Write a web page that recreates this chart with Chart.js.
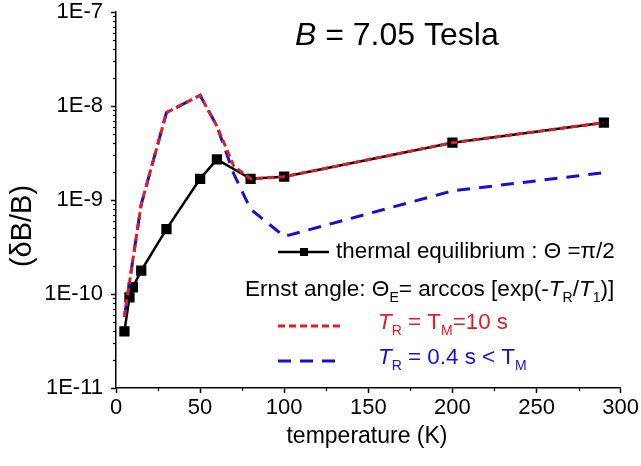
<!DOCTYPE html>
<html>
<head>
<meta charset="utf-8">
<script src="https://cdn.jsdelivr.net/npm/chart.js@4"></script>
<style>
  body { margin: 0; background: #fff; }
  canvas { display: block; }
</style>
</head>
<body>
<canvas id="chart" width="641" height="466"></canvas>
<script>
'use strict';

// temperatures (K) and values
const eqTemps = [5, 8, 10, 15, 30, 50, 60, 80, 100, 200, 290];
const thermalEq = [4.0e-11, 9.2e-11, 1.18e-10, 1.77e-10, 4.9e-10, 1.68e-9, 2.7e-9, 1.68e-9, 1.77e-9, 4.07e-9, 6.65e-9];

const ernstTemps = [5, 10, 15, 30, 50, 60, 70, 80, 100, 200, 290];
const ernstLongTR = [5.7e-11, 2.3e-10, 9.0e-10, 8.5e-9, 1.3e-8, 6.1e-9, 2.3e-9, 1.68e-9, 1.77e-9, 4.07e-9, 6.65e-9];
const ernstShortTR = [5.7e-11, 2.3e-10, 9.0e-10, 8.5e-9, 1.3e-8, 6.1e-9, 1.9e-9, 8.0e-10, 4.1e-10, 1.25e-9, 1.95e-9];

// axis ticks
const xTicks = [0, 50, 100, 150, 200, 250, 300];
const xMinorTicks = [25, 75, 125, 175, 225, 275];
const yTicks = [1e-11, 1e-10, 1e-9, 1e-8, 1e-7];

const FONT = "'Liberation Sans', Arial, sans-serif";
const RED = 'rgb(226, 28, 32)';
const BLUE = 'rgb(18, 18, 214)';

const toPoints = (xs, ys) => xs.map((x, i) => ({ x: x, y: ys[i] }));

// draw a line of text made of parts (italic / subscript)
function drawRich(ctx, x, y, parts, size, color) {
  ctx.textBaseline = 'middle';
  ctx.textAlign = 'left';
  parts.forEach(p => {
    const s = p.sub ? Math.round(size * 0.62) : size;
    ctx.font = (p.it ? 'italic ' : '') + s + 'px ' + FONT;
    ctx.fillStyle = color;
    ctx.fillText(p.t, x, p.sub ? y + size * 0.38 : y);
    x += ctx.measureText(p.t).width;
  });
}

const decorations = {
  id: 'decorations',
  afterDraw(chart) {
    const ctx = chart.ctx;
    const xs = chart.scales.x;
    const ys = chart.scales.y;
    ctx.save();

    // minor ticks
    ctx.strokeStyle = '#000';
    ctx.lineWidth = 1.2;
    for (let e = -11; e < -7; e++) {
      for (let k = 2; k <= 9; k++) {
        const py = Math.round(ys.getPixelForValue(k * Math.pow(10, e))) + 0.5;
        ctx.beginPath();
        ctx.moveTo(xs.left - 3, py);
        ctx.lineTo(xs.left, py);
        ctx.stroke();
      }
    }
    xMinorTicks.forEach(v => {
      const px = Math.round(xs.getPixelForValue(v)) + 0.5;
      ctx.beginPath();
      ctx.moveTo(px, ys.bottom);
      ctx.lineTo(px, ys.bottom + 3);
      ctx.stroke();
    });

    // axis titles
    ctx.fillStyle = '#000';
    ctx.textAlign = 'center';
    ctx.textBaseline = 'middle';
    ctx.font = '23px ' + FONT;
    ctx.fillText('temperature (K)', 367, 437);
    ctx.save();
    ctx.translate(23, 226);
    ctx.rotate(-Math.PI / 2);
    ctx.font = '29px ' + FONT;
    ctx.fillText('(\u03B4B/B)', 0, 0);
    ctx.restore();

    // field label
    drawRich(ctx, 295, 36, [{ t: 'B', it: true }, { t: ' = 7.05 Tesla' }], 32, '#000');

    // legend
    const ds = chart.data.datasets;
    const sample = (d, y) => {
      ctx.strokeStyle = d.borderColor;
      ctx.lineWidth = d.borderWidth;
      ctx.setLineDash(d.borderDash || []);
      ctx.beginPath();
      ctx.moveTo(278, y);
      ctx.lineTo(d.borderDash ? 341 : 329, y);
      ctx.stroke();
      ctx.setLineDash([]);
    };
    sample(ds[2], 252);
    ctx.fillStyle = '#000';
    ctx.fillRect(300, 248, 8, 8);
    drawRich(ctx, 336, 252, [{ t: 'thermal equilibrium : \u0398 =\u03C0/2' }], 22.4, '#000');

    drawRich(ctx, 245, 290, [
      { t: 'Ernst angle: \u0398' }, { t: 'E', sub: true }, { t: '= arccos [exp(-' },
      { t: 'T', it: true }, { t: 'R', sub: true }, { t: '/' },
      { t: 'T', it: true }, { t: '1', sub: true }, { t: ')]' }
    ], 22.6, '#000');

    sample(ds[0], 326);
    drawRich(ctx, 378, 323, [
      { t: 'T', it: true }, { t: 'R', sub: true }, { t: ' = T' }, { t: 'M', sub: true }, { t: '=10 s' }
    ], 22.4, RED);

    sample(ds[1], 361);
    drawRich(ctx, 378, 358, [
      { t: 'T', it: true }, { t: 'R', sub: true }, { t: ' = 0.4 s < T' }, { t: 'M', sub: true }
    ], 22.4, BLUE);

    ctx.restore();
  }
};

const data = {
  datasets: [
    {
      label: 'TR = TM = 10 s',
      data: toPoints(ernstTemps, ernstLongTR),
      borderColor: RED,
      borderWidth: 3,
      borderDash: [7, 4],
      pointRadius: 0,
      order: 0,
    },
    {
      label: 'TR = 0.4 s < TM',
      data: toPoints(ernstTemps, ernstShortTR),
      borderColor: BLUE,
      borderWidth: 3,
      borderDash: [13, 9],
      pointRadius: 0,
      order: 1,
    },
    {
      label: 'thermal equilibrium',
      data: toPoints(eqTemps, thermalEq),
      borderColor: '#000',
      backgroundColor: '#000',
      borderWidth: 2.5,
      pointStyle: 'rect',
      pointRadius: 5.5,
      order: 2,
    },
  ],
};

const axisGrid = {
  drawOnChartArea: false,
  drawTicks: true,
  tickLength: 5,
  tickColor: '#000',
  tickWidth: 1.5,
};

const options = {
  responsive: false,
  animation: false,
  layout: { padding: { top: 12, right: 19, left: 0, bottom: 0 } },
  elements: { line: { tension: 0, fill: false } },
  plugins: { legend: { display: false }, tooltip: { enabled: false } },
  scales: {
    x: {
      type: 'linear',
      min: 0,
      max: 300,
      border: { display: true, color: '#000', width: 1.5 },
      grid: axisGrid,
      afterBuildTicks: s => { s.ticks = xTicks.map(v => ({ value: v })); },
      afterFit: s => { s.height = 78; },
      ticks: { color: '#000', font: { family: FONT, size: 22 }, padding: 2, maxRotation: 0 },
    },
    y: {
      type: 'logarithmic',
      min: 1e-11,
      max: 1e-7,
      border: { display: true, color: '#000', width: 1.5 },
      grid: axisGrid,
      afterBuildTicks: s => { s.ticks = yTicks.map(v => ({ value: v, major: true })); },
      afterFit: s => { s.width = 116; s.paddingTop = 0; s.paddingBottom = 0; },
      ticks: {
        color: '#000',
        font: { family: FONT, size: 22 },
        padding: 8,
        callback: v => '1E' + Math.round(Math.log10(v)),
      },
    },
  },
};

new Chart(document.getElementById('chart'), {
  type: 'line',
  data: data,
  options: options,
  plugins: [decorations],
});
</script>
</body>
</html>
